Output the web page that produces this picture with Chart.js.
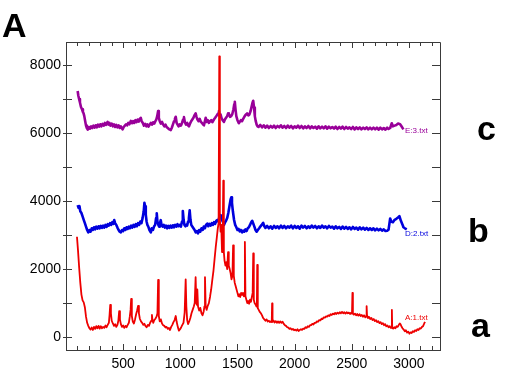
<!DOCTYPE html>
<html>
<head>
<meta charset="utf-8">
<script src="https://cdn.jsdelivr.net/npm/chart.js@4"></script>
<style>
html,body{margin:0;padding:0;background:#fff;}
#wrap{position:relative;width:510px;height:380px;overflow:hidden;}
#wrap canvas{position:absolute;left:0;top:0;}
.big{position:absolute;font-family:"Liberation Sans",Arial,sans-serif;font-weight:bold;font-size:34px;line-height:1;color:#000;}
.tag{position:absolute;font-family:"Liberation Sans",Arial,sans-serif;font-size:8px;line-height:1;}
</style>
</head>
<body>
<div id="wrap">
<canvas id="c" width="510" height="380"></canvas>
<div class="big" style="left:2px;top:8px;">A</div>
<div class="big" style="left:477px;top:111px;">c</div>
<div class="big" style="left:468px;top:213px;">b</div>
<div class="big" style="left:471px;top:308px;">a</div>
<div class="tag" style="left:405px;top:127px;color:#990099;">E:3.txt</div>
<div class="tag" style="left:405px;top:230px;color:#0000dd;">D:2.txt</div>
<div class="tag" style="left:405px;top:314px;color:#ee0000;">A:1.txt</div>
</div>
<script>
// Series names
const seriesNames = ["A:1.txt", "D:2.txt", "E:3.txt"];
// Tick labels
const xTickValues = [500, 1000, 1500, 2000, 2500, 3000];
const yTickValues = [0, 2000, 4000, 6000, 8000];

// a : A:1.txt (red)
const redX = [
96,105,115,125,135,145,155,165,175,185,
195,205,215,225,235,245,255,265,275,285,
295,305,315,325,335,345,355,365,375,381,
387,393,400,410,420,430,440,450,458,465,
472,480,490,500,510,520,530,540,550,558,
565,570,576,584,594,604,614,622,631,638,
646,656,666,676,686,696,706,716,726,736,
746,752,757,764,772,782,792,800,806,812,
820,830,840,850,860,870,880,890,900,910,
920,930,940,950,960,968,978,988,998,1008,
1018,1028,1038,1047,1053,1060,1068,1078,1088,1098,
1108,1118,1126,1134,1140,1145,1149,1155,1165,1175,
1185,1195,1205,1211,1216,1222,1230,1240,1250,1260,
1270,1280,1290,1300,1310,1320,1328,1335,1341,1346,
1352,1358,1365,1371,1376,1381,1387,1395,1403,1410,
1418,1424,1432,1440,1448,1456,1462,1468,1476,1484,
1492,1500,1508,1516,1524,1532,1540,1548,1556,1561,
1565,1570,1578,1586,1594,1602,1610,1618,1626,1633,
1638,1643,1650,1658,1666,1670,1673,1678,1686,1695,
1705,1715,1725,1735,1745,1755,1765,1775,1785,1795,
1800,1803,1807,1815,1825,1835,1845,1855,1865,1875,
1885,1895,1905,1915,1925,1935,1945,1955,1965,1975,
1985,1995,2005,2015,2025,2035,2045,2055,2065,2075,
2085,2095,2105,2115,2125,2135,2145,2155,2165,2175,
2185,2195,2205,2215,2225,2235,2245,2255,2265,2275,
2285,2295,2305,2315,2325,2335,2345,2355,2365,2375,
2385,2395,2405,2415,2425,2435,2445,2455,2465,2475,
2485,2495,2502,2506,2510,2518,2528,2538,2548,2558,
2568,2578,2588,2598,2608,2618,2626,2630,2634,2642,
2652,2662,2672,2682,2692,2702,2712,2722,2732,2742,
2752,2762,2772,2782,2792,2802,2812,2822,2832,2842,
2848,2851,2854,2862,2872,2882,2892,2902,2912,2920,
2926,2934,2944,2954,2964,2974,2984,2994,3004,3014,
3024,3034,3044,3054,3064,3074,3084,3094,3104,3114,
3124,3134,3141
];
const redY = [
2950,2550,2050,1600,1250,1080,1020,880,600,420,
330,260,220,280,210,300,240,320,260,330,
250,320,260,300,270,340,290,360,420,650,
950,700,480,400,330,380,300,360,480,760,
520,380,300,340,270,330,290,360,420,600,
800,1120,620,460,400,520,680,780,920,700,
540,460,420,360,390,320,290,360,330,420,
480,650,480,420,500,540,600,700,1680,620,
460,520,400,350,330,280,300,240,270,210,
300,360,440,500,620,450,300,190,230,290,
360,420,720,1700,900,500,380,460,560,700,
800,900,1000,1760,1000,950,1400,900,780,860,
700,640,760,900,1760,900,800,920,1000,1180,
1400,1680,1950,2300,2650,2950,3200,3350,8260,3500,
3100,3300,2500,3000,4600,2500,2250,2100,2200,2000,
2500,2100,2000,1880,1700,1800,2700,1800,1600,1500,
1400,1300,1200,1260,1180,1300,1240,1300,1200,1300,
2800,1200,1100,1000,1060,980,1100,1040,1180,1300,
2460,1100,1000,960,900,1000,2120,850,800,740,
700,640,560,520,480,520,460,480,440,470,
440,990,450,490,430,470,420,460,420,460,
420,450,390,350,330,290,280,240,260,220,
240,200,220,190,230,180,210,230,210,250,
240,290,270,320,300,350,350,390,370,420,
420,460,450,500,490,540,530,580,570,610,
600,640,620,670,650,690,670,710,680,720,
690,730,700,740,700,730,690,730,700,720,
680,720,690,1300,700,660,690,640,680,630,
670,620,650,600,640,580,620,910,600,560,
590,530,560,500,530,470,500,440,470,410,
440,380,410,350,380,320,340,290,320,270,
280,800,270,250,290,260,320,300,360,400,
380,320,260,220,170,200,130,160,100,140,
120,170,150,200,180,230,210,260,250,300,
320,400,450
];

// b : D:2.txt (blue)
const blueX = [
102,110,118,125,135,145,155,165,175,185,
195,205,215,225,235,245,255,265,275,285,
295,305,315,325,335,345,355,365,375,385,
395,405,415,422,430,440,450,460,470,480,
490,500,510,520,530,540,550,560,570,580,
590,600,610,620,630,640,650,660,670,680,
686,692,698,705,712,720,730,742,750,760,
770,780,788,794,800,808,815,822,829,836,
845,855,865,875,885,895,905,915,925,935,
945,955,965,975,985,995,1005,1015,1022,1029,
1036,1045,1052,1060,1068,1075,1082,1089,1096,1105,
1115,1125,1135,1145,1155,1165,1175,1185,1195,1205,
1215,1225,1236,1245,1255,1265,1275,1285,1295,1305,
1315,1323,1332,1341,1353,1362,1372,1382,1392,1400,
1410,1420,1430,1440,1446,1452,1460,1470,1480,1490,
1500,1510,1520,1530,1541,1550,1560,1570,1580,1590,
1600,1610,1620,1629,1638,1648,1658,1668,1678,1690,
1700,1712,1725,1735,1745,1760,1775,1790,1805,1820,
1835,1850,1865,1880,1895,1910,1925,1940,1955,1970,
1985,2000,2015,2030,2045,2060,2075,2090,2105,2120,
2135,2150,2165,2180,2195,2210,2225,2240,2255,2270,
2285,2300,2315,2330,2345,2360,2375,2390,2405,2420,
2435,2450,2465,2480,2495,2510,2525,2540,2555,2570,
2585,2600,2615,2630,2645,2660,2675,2690,2705,2720,
2735,2750,2765,2780,2795,2810,2822,2836,2845,2860,
2875,2890,2905,2917,2930,2945,2952,2965,2981
];
const blueY = [
3880,3800,3850,3700,3650,3550,3450,3350,3250,3150,
3080,3150,3100,3200,3150,3230,3170,3250,3190,3260,
3200,3270,3210,3280,3220,3300,3240,3320,3280,3350,
3300,3380,3330,3440,3350,3300,3220,3150,3100,3080,
3150,3120,3200,3150,3230,3180,3250,3200,3280,3220,
3300,3240,3320,3260,3350,3300,3400,3350,3500,3700,
3950,3850,3600,3400,3300,3250,3150,3080,3200,3150,
3250,3300,3500,3640,3400,3300,3250,3350,3440,3300,
3250,3300,3220,3280,3200,3270,3210,3280,3220,3290,
3230,3300,3250,3320,3260,3300,3250,3400,3710,3450,
3300,3260,3300,3280,3400,3500,3730,3450,3300,3250,
3200,3150,3080,3120,3050,3150,3100,3200,3150,3250,
3200,3300,3340,3260,3330,3280,3350,3300,3380,3330,
3420,3440,3400,3520,3590,3450,3400,3300,3380,3420,
3500,3650,3850,4050,4110,3950,3700,3450,3300,3230,
3150,3180,3110,3150,3080,3130,3100,3170,3120,3200,
3230,3300,3380,3420,3340,3250,3150,3100,3150,3200,
3250,3300,3360,3260,3210,3270,3200,3260,3190,3270,
3210,3260,3200,3280,3210,3270,3200,3260,3220,3280,
3200,3270,3210,3260,3190,3280,3220,3270,3200,3260,
3210,3280,3220,3270,3200,3260,3210,3280,3220,3260,
3200,3270,3220,3250,3190,3260,3200,3240,3180,3250,
3190,3240,3180,3230,3170,3240,3180,3220,3160,3230,
3170,3220,3160,3210,3150,3200,3150,3200,3140,3190,
3140,3180,3130,3170,3120,3130,3160,3490,3400,3380,
3450,3480,3520,3560,3420,3300,3230,3200,3170
];

// c : E:3.txt (purple)
const purpleX = [
102,108,115,122,131,140,148,154,160,168,
175,183,190,200,210,220,230,240,250,260,
270,280,290,300,310,320,330,340,350,364,
372,380,390,400,410,420,430,440,450,460,
470,480,495,505,515,525,535,545,555,567,
577,587,597,607,617,627,637,647,654,662,
672,682,692,702,712,722,732,742,752,762,
772,782,790,798,806,812,820,830,840,850,
860,870,880,890,900,910,916,925,935,945,
953,960,968,976,985,995,1005,1015,1024,1032,
1040,1050,1060,1068,1076,1085,1095,1105,1115,1125,
1134,1142,1150,1160,1170,1180,1190,1200,1207,1215,
1222,1230,1240,1250,1260,1270,1280,1294,1305,1315,
1325,1332,1338,1345,1352,1360,1370,1382,1390,1400,
1410,1418,1425,1435,1445,1455,1465,1472,1477,1483,
1490,1500,1512,1520,1530,1540,1550,1560,1570,1580,
1585,1595,1605,1615,1625,1632,1638,1645,1652,1660,
1668,1675,1685,1700,1715,1730,1745,1760,1775,1790,
1805,1820,1835,1850,1865,1880,1895,1910,1925,1940,
1955,1970,1985,2000,2015,2030,2045,2060,2075,2090,
2105,2120,2135,2150,2165,2180,2195,2210,2225,2240,
2255,2270,2285,2300,2315,2330,2345,2360,2375,2390,
2405,2420,2435,2450,2465,2480,2495,2510,2525,2540,
2555,2570,2585,2600,2615,2630,2645,2660,2675,2690,
2705,2720,2735,2750,2765,2780,2795,2810,2822,2836,
2850,2860,2875,2890,2905,2923,2935,2952
];
const purpleY = [
7240,7100,7000,6900,6770,6700,6620,6580,6500,6350,
6220,6140,6100,6180,6130,6200,6150,6220,6160,6230,
6170,6250,6190,6260,6200,6270,6220,6300,6240,6330,
6250,6300,6220,6280,6200,6260,6180,6240,6170,6230,
6150,6200,6110,6180,6220,6260,6230,6300,6260,6360,
6290,6350,6300,6380,6320,6400,6340,6420,6450,6350,
6300,6220,6270,6200,6260,6190,6250,6300,6250,6320,
6280,6350,6400,6500,6650,6450,6350,6280,6330,6250,
6200,6250,6180,6150,6120,6100,6090,6150,6250,6350,
6420,6480,6300,6250,6200,6260,6220,6300,6400,6470,
6320,6250,6300,6230,6200,6280,6350,6400,6450,6530,
6580,6480,6400,6350,6420,6330,6300,6250,6230,6350,
6450,6330,6380,6300,6350,6380,6320,6400,6450,6500,
6550,6580,6650,6500,6550,6450,6380,6330,6400,6450,
6500,6580,6560,6480,6500,6560,6700,6850,6920,6700,
6500,6380,6290,6330,6380,6350,6420,6480,6530,6560,
6580,6520,6550,6650,6800,6900,6950,6750,6500,6350,
6250,6200,6180,6240,6170,6230,6160,6220,6150,6210,
6160,6220,6150,6210,6170,6230,6160,6210,6150,6220,
6160,6210,6140,6200,6160,6220,6150,6210,6140,6200,
6150,6210,6140,6200,6150,6190,6130,6200,6140,6190,
6140,6200,6130,6190,6140,6180,6130,6190,6120,6180,
6130,6190,6120,6180,6130,6170,6120,6180,6110,6170,
6120,6170,6110,6160,6120,6170,6110,6160,6110,6160,
6110,6160,6100,6160,6110,6150,6100,6160,6120,6150,
6290,6200,6220,6240,6280,6260,6200,6110
];

const toPts = (xs, ys) => xs.map((x, i) => ({x: x, y: ys[i]}));

const AXIS_COLOR = '#3a3a3a';
const FONT = '"Liberation Sans", Arial, sans-serif';

const frameTicks = {
  id: 'frameTicks',
  afterDatasetsDraw(chart) {
    const {ctx, chartArea: a, scales: {x, y}} = chart;
    ctx.save();
    ctx.strokeStyle = AXIS_COLOR;
    ctx.lineWidth = 1;
    ctx.beginPath();
    ctx.rect(Math.round(a.left) + 0.5, Math.round(a.top) + 0.5, Math.round(a.right - a.left), Math.round(a.bottom - a.top));
    ctx.stroke();
    ctx.beginPath();
    for (let v = 100; v <= 3200; v += 100) {
      const px = Math.round(x.getPixelForValue(v)) + 0.5;
      const len = (v % 500 === 0) ? 6 : 4;
      ctx.moveTo(px, a.bottom); ctx.lineTo(px, a.bottom - len);
      ctx.moveTo(px, a.top); ctx.lineTo(px, a.top + len);
    }
    for (let v = 0; v <= 8000; v += 1000) {
      const py = Math.round(y.getPixelForValue(v)) + 0.5;
      ctx.moveTo(a.left - 3, py); ctx.lineTo(a.left + 6, py);
      ctx.moveTo(a.right, py); ctx.lineTo(a.right - 8, py);
    }
    ctx.stroke();
    ctx.restore();
  }
};

new Chart(document.getElementById('c'), {
  type: 'line',
  data: {
    datasets: [
      {label: seriesNames[0], data: toPts(redX, redY), borderColor: '#ee0000', borderWidth: 1.8, order: 0},
      {label: seriesNames[1], data: toPts(blueX, blueY), borderColor: '#0000dd', borderWidth: 2.6, order: 1},
      {label: seriesNames[2], data: toPts(purpleX, purpleY), borderColor: '#990099', borderWidth: 2.6, order: 2}
    ]
  },
  options: {
    responsive: false,
    animation: false,
    events: [],
    layout: {padding: {left: 0, top: 42, right: 70, bottom: 0}},
    elements: {point: {radius: 0}, line: {tension: 0, borderJoinStyle: 'round'}},
    plugins: {legend: {display: false}, tooltip: {enabled: false}},
    scales: {
      x: {
        type: 'linear', min: 0, max: 3272,
        grid: {display: false, drawTicks: false},
        border: {display: true, color: AXIS_COLOR},
        afterBuildTicks: s => { s.ticks = xTickValues.map(v => ({value: v})); },
        afterFit: s => { s.height = 30; },
        ticks: {color: '#000', font: {family: FONT, size: 14}, padding: 6, maxRotation: 0, autoSkip: false, callback: v => String(v)}
      },
      y: {
        type: 'linear', min: -380, max: 8680,
        grid: {display: false, drawTicks: false},
        border: {display: true, color: AXIS_COLOR},
        afterBuildTicks: s => { s.ticks = yTickValues.map(v => ({value: v})); },
        afterFit: s => { s.width = 66; },
        ticks: {color: '#000', font: {family: FONT, size: 14}, padding: 5, callback: v => String(v)}
      }
    }
  },
  plugins: [frameTicks]
});
</script>
</body>
</html>
